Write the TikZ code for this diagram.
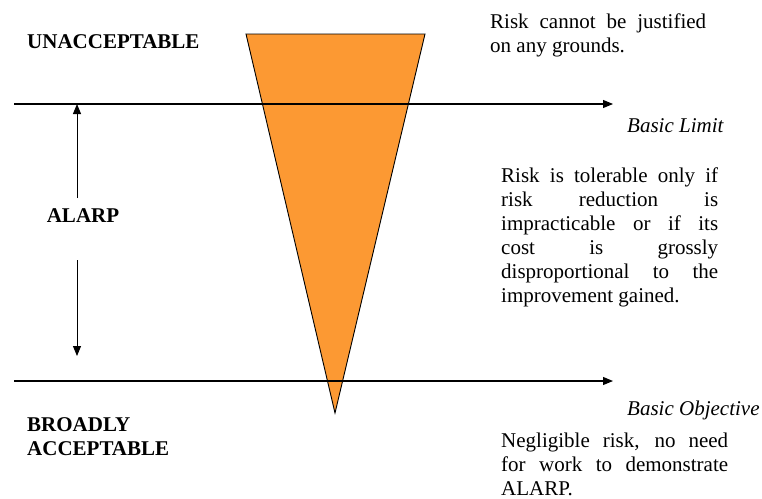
\documentclass[tikz,border=0pt]{standalone}
\usepackage{fontspec}
\setmainfont{Liberation Serif}
\usetikzlibrary{arrows.meta}
\definecolor{riskorange}{RGB}{252,153,51}
\newcommand{\jline}[2]{\makebox[#1][s]{#2}}
\begin{document}
\begin{tikzpicture}[x=1pt,y=-1pt,
  txt/.style={anchor=base west,inner sep=0pt,font=\fontsize{21}{24}\selectfont,align=left},
  zone/.style={anchor=base west,inner sep=0pt,font=\fontsize{21}{24}\selectfont\bfseries,align=left},
  limitlabel/.style={anchor=base west,inner sep=0pt,font=\fontsize{21}{24}\selectfont\itshape},
  boundary/.style={line width=1.1pt,-{Triangle[length=10pt,width=8pt]}},
  span/.style={line width=1pt,-{Triangle[length=10pt,width=8pt]}}]
\useasboundingbox (0,0) rectangle (762,498);

% risk triangle
\draw[fill=riskorange,line width=0.9pt,line join=miter] (246,34) -- (425,34) -- (335,413) -- cycle;

% boundaries
\coordinate (limL) at (14,104);
\coordinate (limR) at (613,104);
\coordinate (objL) at (14,381);
\coordinate (objR) at (613,381);
\draw[boundary] (limL) -- (limR);
\draw[boundary] (objL) -- (objR);

% ALARP band
\node[zone,anchor=base] (alarp) at (83,222) {ALARP};
\coordinate (spanTop) at (77,104);
\coordinate (spanBot) at (77,356);
\coordinate (spanA) at (77,198);
\coordinate (spanB) at (77,260);
\draw[span] (spanA) -- (spanTop);
\draw[span] (spanB) -- (spanBot);

% zone labels (multi-line nodes sit on their last baseline)
\node[zone] (unacc) at (27,48) {UNACCEPTABLE};
\node[zone] (broad) at (27,455) {BROADLY\\ACCEPTABLE};

% limit labels
\node[limitlabel] (blim) at (627,132) {Basic Limit};
\node[limitlabel] (bobj) at (627,415) {Basic Objective};

% descriptions
\node[txt] (d1) at (490,52) {\jline{216pt}{Risk cannot be justified}\\on any grounds.};
\node[txt] (d2) at (501,302) {\jline{217pt}{Risk is tolerable only if}\\
  \jline{217pt}{risk reduction is}\\
  \jline{217pt}{impracticable or if its}\\
  \jline{217pt}{cost is grossly}\\
  \jline{217pt}{disproportional to the}\\
  improvement gained.};
\node[txt] (d3) at (501,495) {\jline{227pt}{Negligible risk, no need}\\
  \jline{227pt}{for work to demonstrate}\\
  ALARP.};
\end{tikzpicture}
\end{document}
